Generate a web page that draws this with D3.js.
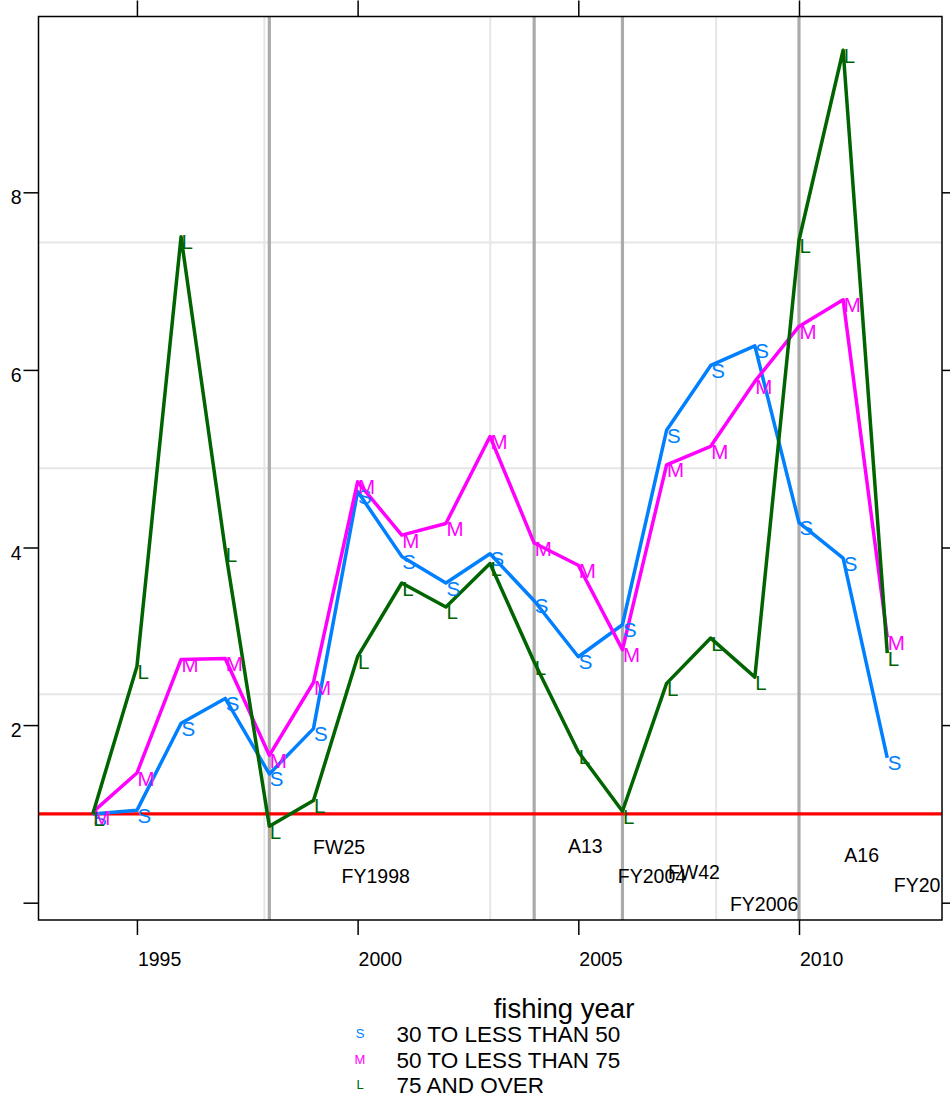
<!DOCTYPE html>
<html>
<head>
<meta charset="utf-8">
<script src="https://cdn.jsdelivr.net/npm/d3@7"></script>
<style>
  html, body { margin: 0; padding: 0; background: #fff; }
  svg { display: block; font-family: "Liberation Sans", Arial, Helvetica, sans-serif; }
</style>
</head>
<body>
<svg id="chart" width="950" height="1101"></svg>
<script>
// ---------------- data ----------------
const years = [1994, 1995, 1996, 1997, 1998, 1999, 2000, 2001, 2002, 2003,
               2004, 2005, 2006, 2007, 2008, 2009, 2010, 2011, 2012];
const seriesS = [1.00, 1.04, 2.02, 2.30, 1.45, 1.96, 4.63, 3.90, 3.60, 3.93,
                 3.40, 2.77, 3.13, 5.32, 6.05, 6.27, 4.28, 3.88, 1.63];
const seriesM = [1.02, 1.46, 2.74, 2.75, 1.66, 2.48, 4.74, 4.14, 4.27, 5.25,
                 4.05, 3.80, 2.85, 4.93, 5.14, 5.87, 6.49, 6.79, 2.99];
const seriesL = [1.00, 2.66, 7.50, 3.98, 0.86, 1.15, 2.77, 3.60, 3.33, 3.82,
                 2.71, 1.70, 1.03, 2.47, 2.98, 2.54, 7.46, 9.60, 2.81];
const seriesNames = ["30 TO LESS THAN 50", "50 TO LESS THAN 75", "75 AND OVER"];
const seriesSymbols = ["S", "M", "L"];
const seriesColors = ["#0080ff", "#ff00ff", "#006400"];

const xTicks = [1995, 2000, 2005, 2010];
const yTicks = [0, 2, 4, 6, 8];
const yTickLabels = ["", "2", "4", "6", "8"];
const xDomain = [1992.77, 2013.24];
const yDomain = [-0.195, 9.98];

const refYears = [1998, 2004, 2006, 2010];   // dark grey vertical reference lines
const refValue = 1;                          // red horizontal line

const annoText = ["FW25", "FY1998", "A13", "FY2004", "FW42", "FY2006", "A16", "FY2010"];
const annoYear = [1999.58, 2000.41, 2005.16, 2006.67, 2007.62, 2009.21, 2011.42, 2012.92];
const annoValue = [0.627, 0.30, 0.64, 0.30, 0.345, -0.015, 0.537, 0.20];

const xTitle = "fishing year";

// ---------------- layout ----------------
const svg = d3.select("#chart");
const panel = { left: 38.5, right: 942, top: 16.5, bottom: 920 };

const xs = d3.scaleLinear().domain(xDomain).range([panel.left, panel.right]);
const ys = d3.scaleLinear().domain(yDomain).range([panel.bottom, panel.top]);

svg.append("defs").append("clipPath").attr("id", "clip")
  .append("rect")
  .attr("x", panel.left).attr("y", panel.top)
  .attr("width", panel.right - panel.left).attr("height", panel.bottom - panel.top);

const plot = svg.append("g").attr("clip-path", "url(#clip)");

// light grid at panel quarters
const gx = d3.range(1, 4).map(i => xDomain[0] + i * (xDomain[1] - xDomain[0]) / 4);
const gy = d3.range(1, 4).map(i => yDomain[0] + i * (yDomain[1] - yDomain[0]) / 4);
plot.selectAll(".gx").data(gx).join("line")
  .attr("x1", d => xs(d)).attr("x2", d => xs(d))
  .attr("y1", panel.top).attr("y2", panel.bottom)
  .attr("stroke", "#e6e6e6").attr("stroke-width", 2);
plot.selectAll(".gy").data(gy).join("line")
  .attr("x1", panel.left).attr("x2", panel.right)
  .attr("y1", d => ys(d)).attr("y2", d => ys(d))
  .attr("stroke", "#e6e6e6").attr("stroke-width", 2);

// reference vertical lines
plot.selectAll(".ref").data(refYears).join("line")
  .attr("x1", d => xs(d)).attr("x2", d => xs(d))
  .attr("y1", panel.top).attr("y2", panel.bottom)
  .attr("stroke", "#ababab").attr("stroke-width", 3.2);

// red line
plot.append("line")
  .attr("x1", panel.left).attr("x2", panel.right)
  .attr("y1", ys(refValue)).attr("y2", ys(refValue))
  .attr("stroke", "#ff0000").attr("stroke-width", 3.2);

// series
const allSeries = [seriesS, seriesM, seriesL];
const line = d3.line().x(d => xs(d[0])).y(d => ys(d[1]));
allSeries.forEach((vals, i) => {
  const pts = years.map((y, j) => [y, vals[j]]);
  plot.append("path")
    .attr("d", line(pts))
    .attr("fill", "none")
    .attr("stroke", seriesColors[i])
    .attr("stroke-width", 3.5)
    .attr("stroke-linejoin", "round");
});
allSeries.forEach((vals, i) => {
  const pts = years.map((y, j) => [y, vals[j]]);
  plot.selectAll(".mk" + i).data(pts).join("text")
    .attr("x", d => xs(d[0]) + 0.5)
    .attr("y", d => ys(d[1]) + 12.5)
    .attr("font-size", 20.5)
    .attr("fill", seriesColors[i])
    .text(seriesSymbols[i]);
});

// annotations
plot.selectAll(".anno").data(annoText).join("text")
  .attr("x", (d, i) => xs(annoYear[i]))
  .attr("y", (d, i) => ys(annoValue[i]) + 7)
  .attr("text-anchor", "middle")
  .attr("font-size", 19.5)
  .attr("fill", "#000")
  .text(d => d);

// panel border
svg.append("rect")
  .attr("x", panel.left).attr("y", panel.top)
  .attr("width", panel.right - panel.left).attr("height", panel.bottom - panel.top)
  .attr("fill", "none").attr("stroke", "#000").attr("stroke-width", 1.5);

// axes
const axisBottom = d3.axisBottom(xs).tickValues(xTicks).tickSize(15).tickPadding(17).tickFormat(d3.format("d"));
const axisTop = d3.axisTop(xs).tickValues(xTicks).tickSize(16).tickFormat("");
const axisLeft = d3.axisLeft(ys).tickValues(yTicks).tickSize(15).tickPadding(2)
  .tickFormat((d, i) => yTickLabels[i]);
const axisRight = d3.axisRight(ys).tickValues(yTicks).tickSize(10).tickFormat("");

function styleAxis(g) {
  g.select(".domain").remove();
  g.selectAll(".tick line").attr("stroke", "#000").attr("stroke-width", 1.5);
  g.selectAll(".tick text").attr("font-size", 19.5).attr("fill", "#000")
    .attr("font-family", "Liberation Sans, Arial, sans-serif");
}
const gb = svg.append("g").attr("transform", `translate(0,${panel.bottom})`).call(axisBottom).call(styleAxis);
gb.selectAll(".tick text").attr("text-anchor", "start").attr("x", 0.5);
svg.append("g").attr("transform", `translate(0,${panel.top})`).call(axisTop).call(styleAxis);
const gl = svg.append("g").attr("transform", `translate(${panel.left},0)`).call(axisLeft).call(styleAxis);
gl.selectAll(".tick text").attr("dy", "0.9em").attr("y", -6);
svg.append("g").attr("transform", `translate(${panel.right},0)`).call(axisRight).call(styleAxis);

// x title
svg.append("text")
  .attr("x", 564).attr("y", 1018)
  .attr("text-anchor", "middle")
  .attr("font-size", 27.5)
  .attr("fill", "#000")
  .text(xTitle);

// legend
const leg = svg.append("g");
seriesNames.forEach((name, i) => {
  const by = 1042 + i * 25.7;
  leg.append("text")
    .attr("x", 360).attr("y", by - 4)
    .attr("text-anchor", "middle")
    .attr("font-size", 13)
    .attr("fill", seriesColors[i])
    .text(seriesSymbols[i]);
  leg.append("text")
    .attr("x", 396.5).attr("y", by)
    .attr("font-size", 22.5)
    .attr("fill", "#000")
    .text(name);
});
</script>
</body>
</html>
